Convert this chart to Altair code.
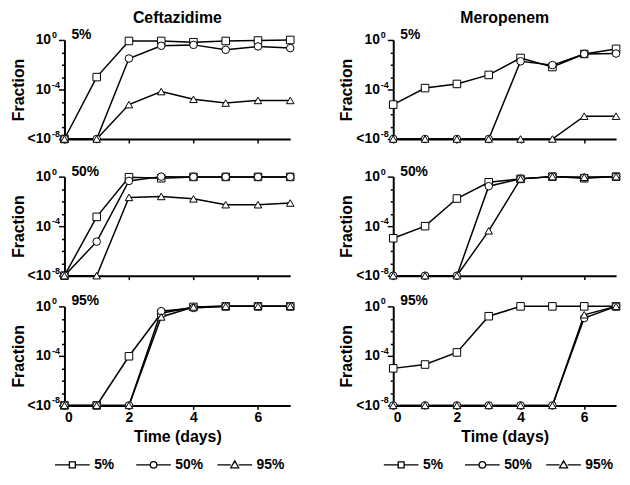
import altair as alt
import pandas as pd

FONT = "Liberation Sans"

days = [0, 1, 2, 3, 4, 5, 6, 7]
series = ["5%", "50%", "95%"]
drugs = ["Ceftazidime", "Meropenem"]
panels = ["5%", "50%", "95%"]

# values below detection (<1e-8) are drawn at 1e-8
# Ceftazidime, 5% panel
cef5_sq = [1e-8, 1e-3, 0.83, 0.83, 0.66, 0.83, 0.9, 1.0]
cef5_ci = [1e-8, 1e-8, 0.032, 0.34, 0.4, 0.16, 0.3, 0.22]
cef5_tr = [1e-8, 1e-8, 6e-6, 6.8e-5, 1.6e-5, 8e-6, 1.3e-5, 1.3e-5]
# Ceftazidime, 50% panel
cef50_sq = [1e-8, 5.6e-4, 0.9, 0.74, 0.95, 0.95, 0.95, 0.95]
cef50_ci = [1e-8, 5.6e-6, 0.45, 1.0, 0.95, 0.95, 0.95, 0.95]
cef50_tr = [1e-8, 1e-8, 0.021, 0.025, 0.016, 5.4e-3, 5.4e-3, 7.4e-3]
# Ceftazidime, 95% panel
cef95_sq = [1e-8, 1e-8, 9.3e-5, 0.28, 0.9, 1.0, 1.0, 1.0]
cef95_ci = [1e-8, 1e-8, 1e-8, 0.41, 0.74, 1.0, 1.0, 1.0]
cef95_tr = [1e-8, 1e-8, 1e-8, 0.14, 0.9, 1.0, 1.0, 1.0]
# Meropenem, 5% panel
mer5_sq = [6e-6, 1.3e-4, 2.8e-4, 1.5e-3, 0.035, 6.5e-3, 0.074, 0.19]
mer5_ci = [1e-8, 1e-8, 1e-8, 1e-8, 0.019, 9.3e-3, 0.074, 0.08]
mer5_tr = [1e-8, 1e-8, 1e-8, 1e-8, 1e-8, 1e-8, 7e-7, 7e-7]
# Meropenem, 50% panel
mer50_sq = [1.05e-5, 1.0e-4, 0.017, 0.35, 0.66, 1.0, 0.74, 1.0]
mer50_ci = [1e-8, 1e-8, 1e-8, 0.17, 0.66, 1.0, 0.85, 1.0]
mer50_tr = [1e-8, 1e-8, 1e-8, 4.2e-5, 0.66, 1.0, 0.9, 1.0]
# Meropenem, 95% panel
mer95_sq = [9.8e-6, 2e-5, 1.9e-4, 0.16, 1.0, 1.0, 1.0, 1.0]
mer95_ci = [1e-8, 1e-8, 1e-8, 1e-8, 1e-8, 1e-8, 0.115, 1.0]
mer95_tr = [1e-8, 1e-8, 1e-8, 1e-8, 1e-8, 1e-8, 0.21, 1.0]

y_ticks = [1e-8, 1e-7, 1e-6, 1e-5, 1e-4, 1e-3, 1e-2, 1e-1, 1.0]
y_labelled = [1.0, 1e-4, 1e-8]
y_exponents = ["0", "-4", "-8"]

table = {
    ("Ceftazidime", "5%"): [cef5_sq, cef5_ci, cef5_tr],
    ("Ceftazidime", "50%"): [cef50_sq, cef50_ci, cef50_tr],
    ("Ceftazidime", "95%"): [cef95_sq, cef95_ci, cef95_tr],
    ("Meropenem", "5%"): [mer5_sq, mer5_ci, mer5_tr],
    ("Meropenem", "50%"): [mer50_sq, mer50_ci, mer50_tr],
    ("Meropenem", "95%"): [mer95_sq, mer95_ci, mer95_tr],
}
rows = []
for (drug, pan), lists in table.items():
    for s, vals in zip(series, lists):
        for d, v in zip(days, vals):
            rows.append({"drug": drug, "panel": pan, "series": s, "day": d, "value": v, "order": series.index(s)})
df = pd.DataFrame(rows)
exp_df = pd.DataFrame({"value": y_labelled, "e": y_exponents})

shape_range = ["square", "circle", "triangle-up"]
legend_paths = [
    "M-1.75,0H-0.3M0.3,0H1.75M-0.3,-0.3H0.3V0.3H-0.3Z",
    "M-1.75,0H-0.33M0.33,0H1.75M0.33,0A0.33,0.33,0,1,1,-0.33,0A0.33,0.33,0,1,1,0.33,0Z",
    "M-1.75,0H-0.4M0.4,0H1.75M0,-0.4L0.4,0.3H-0.4Z",
]

EXP = "round(log(datum.value)/LN10)"
y_label_expr = f"{EXP} == 0 ? '10' : {EXP} == -4 ? '10' : {EXP} == -8 ? '<10' : ''"

AX = dict(
    grid=False,
    domainColor="black",
    domainWidth=2,
    tickColor="black",
    tickWidth=1.5,
    labelColor="black",
    labelFont=FONT,
    labelFontSize=14,
    labelFontWeight="bold",
    titleColor="black",
    titleFont=FONT,
    titleFontSize=16,
    titleFontWeight="bold",
)


def panel(drug, pan, width, top, bottom):
    d = df[(df.drug == drug) & (df.panel == pan)]
    base = alt.Chart(d)
    x = alt.X(
        "day:Q",
        scale=alt.Scale(domain=[0, 7], nice=False, zero=False),
        axis=alt.Axis(
            values=days,
            labels=bottom,
            labelExpr="datum.value % 2 == 0 ? datum.label : ''",
            title="Time (days)" if bottom else None,
            tickSize=4,
            labelPadding=1,
            titlePadding=4,
            **AX,
        ),
    )
    y = alt.Y(
        "value:Q",
        scale=alt.Scale(type="log", domain=[1e-8, 1], nice=False),
        axis=alt.Axis(
            values=y_ticks,
            labelExpr=y_label_expr,
            labelOverlap=False,
            tickSize={"condition": {"test": f"{EXP} % 4 == 0", "value": 6}, "value": 3},
            title="Fraction",
            titlePadding=1,
            labelPadding=8,
            **AX,
        ),
    )
    lines = base.mark_line(color="black", strokeWidth=1.5).encode(
        x=x, y=y, detail="series:N", order="day:Q"
    )
    pts = base.mark_point(
        fill="white", fillOpacity=1, stroke="black", strokeWidth=1, opacity=1, size=58
    ).encode(
        x=x,
        y=y,
        shape=alt.Shape("series:N", scale=alt.Scale(domain=series, range=shape_range), legend=None),
        order="order:Q",
    )
    label = alt.Chart(pd.DataFrame({"t": [pan]})).mark_text(
        align="left", baseline="middle", dx=7, dy=-5, fontSize=14, fontWeight="bold", font=FONT
    ).encode(x=alt.datum(0), y=alt.datum(1.0), text="t:N")
    expo = alt.Chart(exp_df).mark_text(
        align="left", baseline="middle", dx=-12.5, dy=-5, fontSize=9, fontWeight="bold", font=FONT,
        color="black",
    ).encode(x=alt.datum(0), y=alt.Y("value:Q"), text="e:N")
    layers = [lines, pts, label, expo]
    if bottom:
        leg = base.mark_point(opacity=0).encode(
            x=x,
            y=y,
            shape=alt.Shape(
                "series:N",
                scale=alt.Scale(domain=series, range=legend_paths),
                legend=alt.Legend(
                    title=None,
                    orient="none",
                    legendX=-3,
                    legendY=100 + 49,
                    direction="horizontal",
                    symbolSize=400,
                    symbolStrokeColor="black",
                    symbolFillColor="white",
                    symbolStrokeWidth=1.3,
                    symbolOpacity=1,
                    labelFontSize=14,
                    labelFont=FONT,
                    labelFontWeight="bold",
                    labelColor="black",
                    labelOffset=11,
                    columnPadding=10,
                    gridAlign="all",
                ),
            ),
        )
        layers.append(leg)
    ch = alt.layer(*layers).properties(width=width, height=100)
    if bottom:
        ch = ch.resolve_scale(shape="independent")
    if top:
        ch = ch.properties(title=alt.TitleParams(drug, fontSize=16, font=FONT, fontWeight="bold", offset=2, color="black"))
    return ch


cols = []
for drug, w in zip(drugs, [228, 225]):
    p = [panel(drug, pn, w, i == 0, i == 2) for i, pn in enumerate(panels)]
    col = alt.vconcat(alt.vconcat(p[0], p[1], spacing=19), p[2], spacing=12)
    cols.append(col)

chart = alt.hconcat(*cols, spacing=43).properties(
    padding={"left": 2, "top": 0, "right": 0, "bottom": 0}
).configure_view(stroke=None)

chart.save("out.html", embed_options={"renderer": "svg", "actions": False})
